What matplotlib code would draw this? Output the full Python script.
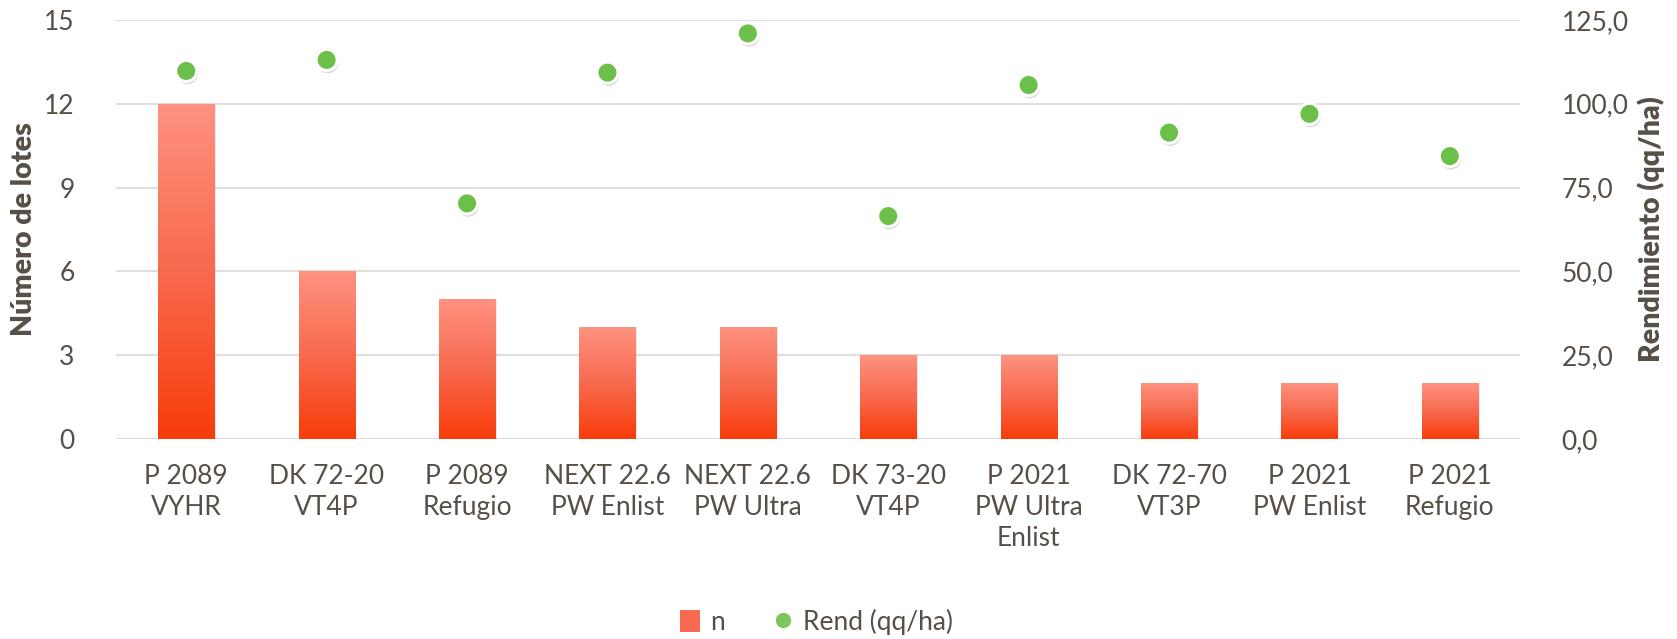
import matplotlib
matplotlib.use("Agg")
import matplotlib.pyplot as plt
import numpy as np
from matplotlib.patches import Patch, Rectangle
from matplotlib.lines import Line2D
import matplotlib.patheffects as pe
from matplotlib.colors import LinearSegmentedColormap

categories = ["P 2089\nVYHR", "DK 72-20\nVT4P", "P 2089\nRefugio", "NEXT 22.6\nPW Enlist",
              "NEXT 22.6\nPW Ultra", "DK 73-20\nVT4P", "P 2021\nPW Ultra\nEnlist",
              "DK 72-70\nVT3P", "P 2021\nPW Enlist", "P 2021\nRefugio"]
n_values = [12, 6, 5, 4, 4, 3, 3, 2, 2, 2]
rend_values = [109.8, 113.1, 70.3, 109.3, 121.0, 66.5, 105.6, 91.4, 97.0, 84.4]
left_ticks = [0, 3, 6, 9, 12, 15]
right_ticks = [0, 25, 50, 75, 100, 125]

plt.rcParams['font.family'] = ['Lato', 'DejaVu Sans']
txt = '#574f46'
grid = '#e2dfda'

fig = plt.figure(figsize=(16.77, 6.39), dpi=100)
ax = fig.add_axes([0.0692, 0.313, 0.9064 - 0.0692, 0.9687 - 0.313])
ax2 = ax.twinx()

x = np.arange(len(categories))
w = 0.40
cmap = LinearSegmentedColormap.from_list('g', ['#f93c0a', '#f76a4e', '#ff9280'])
grad = np.linspace(0, 1, 256).reshape(-1, 1)
bars = ax.bar(x, n_values, width=w, color='none', zorder=2)
for b in bars:
    bx, by = b.get_x(), b.get_y()
    bw, bh = b.get_width(), b.get_height()
    sh = Rectangle((bx + 0.012, by), bw, bh, facecolor='#000000', alpha=0.08, zorder=1.5,
                   edgecolor='none')
    ax.add_patch(sh)
    im = ax.imshow(grad, extent=(bx, bx + bw, by, by + bh), origin='lower', aspect='auto',
                   cmap=cmap, zorder=2)
    clip = Rectangle((bx, by), bw, bh, transform=ax.transData)
    im.set_clip_path(clip)

ax.set_xlim(-0.5, len(categories) - 0.5)
ax.set_ylim(0, 15)
ax.set_yticks(left_ticks)
ax.set_xticks(x)
ax.set_xticklabels(categories, linespacing=1.3)
ax.grid(axis='y', color=grid, linewidth=1.5, zorder=0)
ax.set_axisbelow(True)
for s in ax.spines.values():
    s.set_visible(False)
for s in ax2.spines.values():
    s.set_visible(False)
ax.tick_params(axis='both', length=0, labelsize=19, colors=txt)
ax.tick_params(axis='y', pad=30)
ax.tick_params(axis='x', pad=18)
ax.set_ylabel('Número de lotes', fontsize=20.5, fontweight='heavy', color=txt, labelpad=5)

ax2.set_ylim(0, 125)
ax2.set_yticks(right_ticks)
ax2.set_yticklabels([f"{v:.1f}".replace('.', ',') for v in right_ticks])
ax2.tick_params(axis='y', length=0, labelsize=19, colors=txt, pad=30)
ax2.set_ylabel('Rendimiento (qq/ha)', fontsize=20.5, fontweight='heavy', color=txt, labelpad=6)

sc = ax2.scatter(x, rend_values, s=230, c='#6cc04a', edgecolors='white', linewidths=2.2,
                 zorder=5)
sc.set_path_effects([pe.SimplePatchShadow(offset=(0.8, -2), alpha=0.15, shadow_rgbFace='#000000'),
                     pe.Normal()])

handles = [Patch(facecolor='#fa6a50', edgecolor='none'),
           Line2D([], [], marker='o', linestyle='none', markersize=11, markerfacecolor='#7cc65c',
                  markeredgecolor='none')]
leg = fig.legend(handles, ['n', 'Rend (qq/ha)'], loc='center', bbox_to_anchor=(0.487, 0.027),
                 ncol=2, frameon=False, fontsize=19, handlelength=0.75, handleheight=0.9,
                 columnspacing=1.8, handletextpad=0.4)
for t in leg.get_texts():
    t.set_color(txt)

fig.savefig('out.png', dpi=100, facecolor='white')
